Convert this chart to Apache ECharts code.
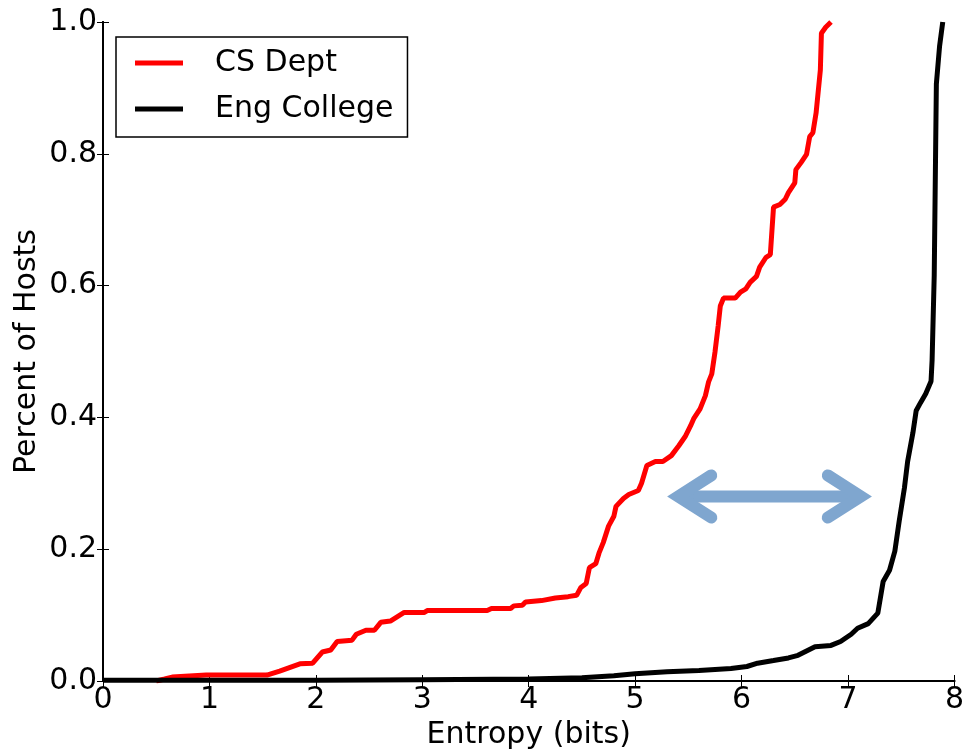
<!DOCTYPE html>
<html>
<head>
<meta charset="utf-8">
<script src="https://cdn.jsdelivr.net/npm/echarts@6/dist/echarts.min.js"></script>
<style>
  html, body { margin: 0; padding: 0; background: #fff; }
  #chart { width: 967px; height: 755px; }
</style>
</head>
<body>
<div id="chart"></div>
<script>
// CDF of host entropy
var csDeptX = [0.5, 0.58, 0.65, 0.97, 1.54, 1.66, 1.85, 1.97, 2.06, 2.14, 2.20, 2.34, 2.38, 2.47, 2.55, 2.61, 2.70, 2.83, 3.02, 3.05,
    3.61, 3.65, 3.83, 3.86, 3.94, 3.97, 4.12, 4.25, 4.37, 4.45, 4.49, 4.54, 4.57, 4.63, 4.66, 4.70, 4.75, 4.80, 4.82, 4.89,
    4.94, 5.03, 5.06, 5.11, 5.19, 5.26, 5.34, 5.41, 5.47, 5.52, 5.55, 5.61, 5.66, 5.69, 5.72, 5.75, 5.78, 5.80, 5.83, 5.94,
    5.99, 6.04, 6.08, 6.14, 6.17, 6.23, 6.27, 6.30, 6.36, 6.41, 6.44, 6.50, 6.51, 6.56, 6.61, 6.64, 6.67, 6.70, 6.74, 6.75,
    6.79, 6.84];
var csDeptY = [0.0, 0.003, 0.006, 0.009, 0.009, 0.015, 0.026, 0.027, 0.044, 0.047, 0.06, 0.062, 0.071, 0.077, 0.077, 0.089, 0.091, 0.104, 0.104, 0.107,
    0.107, 0.11, 0.11, 0.114, 0.115, 0.12, 0.122, 0.126, 0.128, 0.13, 0.142, 0.148, 0.172, 0.178, 0.194, 0.21, 0.235, 0.25, 0.265, 0.277,
    0.283, 0.289, 0.30, 0.327, 0.333, 0.333, 0.342, 0.357, 0.371, 0.387, 0.398, 0.413, 0.433, 0.454, 0.466, 0.499, 0.539, 0.569, 0.581, 0.581,
    0.59, 0.595, 0.605, 0.614, 0.628, 0.643, 0.647, 0.719, 0.723, 0.731, 0.741, 0.756, 0.776, 0.787, 0.799, 0.826, 0.832, 0.862, 0.927, 0.983,
    0.992, 1.0];

var engCollegeX = [0, 2, 3, 4, 4.5, 4.8, 5.0, 5.3, 5.6, 5.9, 6.05, 6.15, 6.3, 6.44, 6.53, 6.69, 6.84, 6.93, 7.03, 7.09,
    7.19, 7.28, 7.33, 7.39, 7.44, 7.48, 7.53, 7.56, 7.61, 7.64, 7.68, 7.73, 7.78, 7.79, 7.81, 7.83, 7.86, 7.89];
var engCollegeY = [0.001, 0.001, 0.002, 0.003, 0.005, 0.008, 0.011, 0.014, 0.016, 0.019, 0.022, 0.027, 0.031, 0.035, 0.039, 0.052, 0.054, 0.06, 0.071, 0.08,
    0.087, 0.103, 0.151, 0.168, 0.197, 0.242, 0.293, 0.333, 0.377, 0.41, 0.422, 0.436, 0.455, 0.487, 0.616, 0.906, 0.963, 1.0];

// double arrow annotation (data units): tips and head size
var arrowFrom = [5.405, 0.28];
var arrowTo = [7.12, 0.28];
var arrowHead = [0.31, 0.032];

var xTicks = [0, 8, 1];
var yTicks = [0, 1, 0.2];

function zip(xs, ys) {
    var out = [];
    for (var i = 0; i < xs.length; i++) out.push([xs[i], ys[i]]);
    return out;
}

var font = 'DejaVu Sans';
var arrowColor = '#7fa6cf';

function arrowPart(name, data, cap) {
    return {
        name: name,
        type: 'line',
        data: data,
        showSymbol: false,
        silent: true,
        z: 1,
        lineStyle: {color: arrowColor, width: 12, cap: cap, join: 'miter'}
    };
}

var myChart = echarts.init(document.getElementById('chart'));
var option = {
    animation: false,
    backgroundColor: '#fff',
    grid: {left: 103, right: 10, top: 22, bottom: 72},
    legend: {
        data: ['CS Dept', 'Eng College'],
        orient: 'vertical',
        left: 116,
        top: 37,
        padding: [11, 14, 13, 19],
        itemGap: 16,
        itemWidth: 48,
        itemHeight: 5,
        icon: 'rect',
        borderColor: '#000',
        borderWidth: 1.5,
        borderRadius: 0,
        textStyle: {fontFamily: font, fontSize: 30, color: '#000', padding: [0, 0, 0, 27]}
    },
    xAxis: [{
        type: 'value',
        min: xTicks[0], max: xTicks[1], interval: xTicks[2],
        name: 'Entropy (bits)',
        nameLocation: 'middle',
        nameGap: 39,
        nameTextStyle: {fontFamily: font, fontSize: 30, color: '#000'},
        axisLine: {lineStyle: {color: '#000', width: 2}},
        axisTick: {inside: true, length: 6, lineStyle: {color: '#000'}},
        axisLabel: {fontFamily: font, fontSize: 30, color: '#000', margin: 4},
        splitLine: {show: false}
    }, {
        type: 'value', position: 'top',
        min: xTicks[0], max: xTicks[1], interval: xTicks[2],
        axisLine: {lineStyle: {color: '#000', width: 2}},
        axisTick: {inside: true, length: 6, lineStyle: {color: '#000'}},
        axisLabel: {show: false},
        splitLine: {show: false}
    }],
    yAxis: [{
        type: 'value',
        min: yTicks[0], max: yTicks[1], interval: yTicks[2],
        name: 'Percent of Hosts',
        nameLocation: 'middle',
        nameGap: 61,
        nameMoveOverlap: false,
        nameTextStyle: {fontFamily: font, fontSize: 30, color: '#000'},
        axisLine: {show: true, lineStyle: {color: '#000', width: 2}},
        axisTick: {show: true, inside: true, length: 6, lineStyle: {color: '#000'}},
        axisLabel: {fontFamily: font, fontSize: 30, color: '#000', margin: 6,
            formatter: function (v) { return v.toFixed(1); }},
        splitLine: {show: false}
    }, {
        type: 'value', position: 'right',
        min: yTicks[0], max: yTicks[1], interval: yTicks[2],
        axisLine: {show: true, lineStyle: {color: '#000', width: 2}},
        axisTick: {show: true, inside: true, length: 6, lineStyle: {color: '#000'}},
        axisLabel: {show: false},
        splitLine: {show: false}
    }],
    series: [
        arrowPart('arrow', [arrowFrom, arrowTo], 'butt'),
        arrowPart('arrowL', [[arrowFrom[0] + arrowHead[0], arrowFrom[1] + arrowHead[1]], arrowFrom,
            [arrowFrom[0] + arrowHead[0], arrowFrom[1] - arrowHead[1]]], 'round'),
        arrowPart('arrowR', [[arrowTo[0] - arrowHead[0], arrowTo[1] + arrowHead[1]], arrowTo,
            [arrowTo[0] - arrowHead[0], arrowTo[1] - arrowHead[1]]], 'round'),
        {
            name: 'CS Dept',
            type: 'line',
            data: zip(csDeptX, csDeptY),
            showSymbol: false,
            color: '#ff0000',
            z: 2,
            lineStyle: {color: '#ff0000', width: 5}
        },
        {
            name: 'Eng College',
            type: 'line',
            data: zip(engCollegeX, engCollegeY),
            showSymbol: false,
            color: '#000000',
            z: 3,
            lineStyle: {color: '#000000', width: 5}
        }
    ]
};
myChart.setOption(option);
</script>
</body>
</html>
